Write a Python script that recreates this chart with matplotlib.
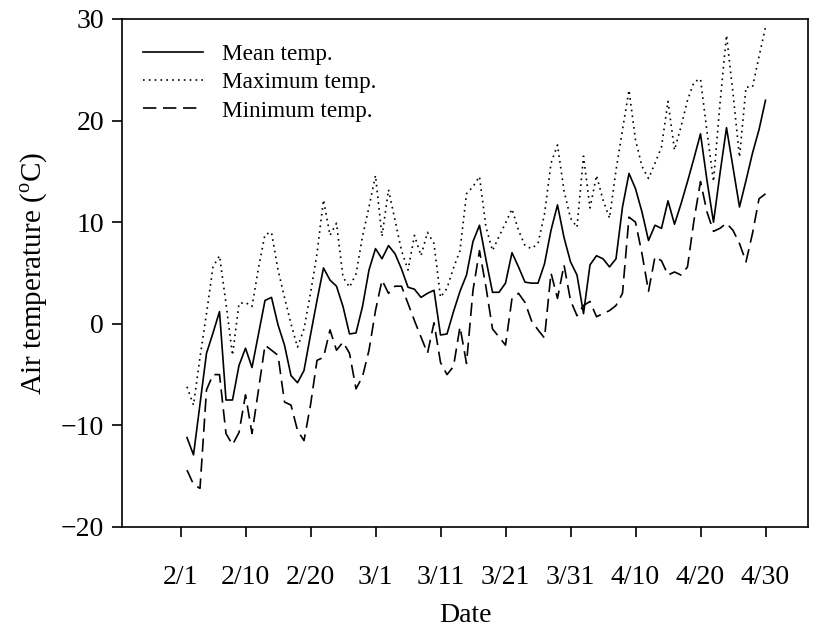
import numpy as np
import matplotlib
matplotlib.use("Agg")
import matplotlib.pyplot as plt

plt.rcParams['font.family'] = ['Liberation Serif', 'DejaVu Serif']
plt.rcParams['mathtext.fontset'] = 'custom'
plt.rcParams['mathtext.rm'] = 'Liberation Serif'

# day of year (leap year): 2/1 = 32 ... 4/30 = 121
day_of_year = np.arange(32, 122)

mean_temp = [-11.2, -12.9, -7.9, -2.9, -0.9, 1.2, -7.5, -7.5, -4.1, -2.4,
             -4.3, -1.0, 2.3, 2.6, -0.1, -2.1, -5.1, -5.8, -4.6, -1.1,
             2.3, 5.5, 4.3, 3.7, 1.7, -1.0, -0.9, 1.7, 5.3, 7.4,
             6.4, 7.7, 6.9, 5.4, 3.6, 3.4, 2.6, 3.0, 3.3, -1.1,
             -1.0, 1.2, 3.2, 4.8, 8.1, 9.7, 6.3, 3.1, 3.1, 4.0,
             7.0, 5.6, 4.1, 4.0, 4.0, 5.9, 9.2, 11.7, 8.5, 6.1,
             4.8, 1.0, 5.8, 6.7, 6.4, 5.6, 6.4, 11.5, 14.8, 13.3,
             11.0, 8.2, 9.7, 9.4, 12.1, 9.8, 11.8, 14.0, 16.3, 18.7,
             14.1, 10.0, 14.8, 19.3, 15.4, 11.5, 14.1, 16.8, 19.1, 22.0]

max_temp = [-6.2, -8.0, -3.3, 1.0, 5.6, 6.7, 2.0, -3.1, 2.0, 2.1,
            1.7, 5.5, 8.8, 9.0, 5.3, 2.6, 0.0, -2.3, -0.5, 3.0,
            6.9, 12.2, 8.7, 9.9, 4.6, 3.6, 4.9, 8.6, 11.5, 14.6,
            8.6, 13.2, 10.2, 7.2, 5.3, 8.7, 6.7, 9.0, 7.9, 2.6,
            3.5, 5.5, 7.2, 12.8, 13.5, 14.5, 9.5, 7.2, 8.6, 9.9,
            11.3, 9.2, 7.7, 7.4, 7.9, 10.8, 15.8, 17.6, 13.1, 10.4,
            9.5, 16.5, 11.4, 14.6, 12.2, 10.4, 15.1, 19.1, 23.0, 18.1,
            15.5, 14.3, 15.8, 17.4, 21.9, 17.1, 19.4, 22.0, 23.8, 24.1,
            18.9, 14.0, 21.7, 28.4, 22.7, 16.4, 23.3, 23.3, 26.3, 29.2]

min_temp = [-14.4, -15.8, -16.2, -6.5, -5.0, -5.0, -10.8, -11.9, -10.7, -7.0,
            -10.8, -6.5, -2.1, -2.6, -3.1, -7.7, -8.0, -10.5, -11.5, -8.0,
            -3.6, -3.3, -0.6, -2.6, -1.8, -2.9, -6.4, -5.2, -2.6, 1.3,
            4.3, 3.0, 3.7, 3.7, 2.0, 0.3, -1.3, -2.9, 0.1, -3.8,
            -5.0, -4.2, -0.3, -3.9, 3.3, 7.2, 3.6, -0.5, -1.3, -2.1,
            2.5, 3.0, 2.1, 0.3, -0.6, -1.4, 5.0, 2.5, 5.8, 2.3,
            0.8, 1.8, 2.2, 0.7, 1.0, 1.3, 1.8, 3.0, 10.5, 10.0,
            6.9, 3.2, 6.6, 6.2, 4.8, 5.1, 4.8, 5.6, 10.2, 14.0,
            11.0, 9.1, 9.4, 9.9, 9.2, 7.9, 6.1, 8.9, 12.3, 12.8]

tick_days = [31, 41, 51, 61, 71, 81, 91, 101, 111, 121]
tick_labels = ['2/1', '2/10', '2/20', '3/1', '3/11', '3/21', '3/31', '4/10', '4/20', '4/30']
y_ticks = [-20, -10, 0, 10, 20, 30]

fig = plt.figure(figsize=(8.23, 6.32), dpi=100)
ax = fig.add_axes([122 / 823, 1 - 527 / 632, (808 - 122) / 823, (527 - 19) / 632])

ax.plot(day_of_year, mean_temp, color='black', lw=1.2, ls='-', label='Mean temp.')
ax.plot(day_of_year, max_temp, color='black', lw=1.2, ls=(0, (1, 2.5)), label='Maximum temp.')
ax.plot(day_of_year, min_temp, color='black', lw=1.2, ls=(0, (8, 4)), label='Minimum temp.')

ax.set_xlim(22, 22 + (808 - 122) / 6.5)
ax.set_ylim(-20, 30)
ax.set_xticks(tick_days)
ax.set_xticklabels(tick_labels)
ax.set_yticks(y_ticks)
ax.tick_params(direction='out', length=7, width=1.2, labelsize=20)
ax.tick_params(axis='x', pad=20)
ax.tick_params(axis='y', pad=6)
for s in ax.spines.values():
    s.set_linewidth(1.2)

ax.set_xlabel('Date', fontsize=20, labelpad=10)
ax.set_ylabel('Air temperature ($^{\\rm o}$C)', fontsize=21, labelpad=8)

leg = ax.legend(loc='upper left', bbox_to_anchor=(0.0, 1 - 4 / 508), frameon=False,
                fontsize=16.7, handlelength=2.6, handletextpad=0.8,
                labelspacing=0.3, borderaxespad=0.5)

fig.savefig('out.png', dpi=100)
